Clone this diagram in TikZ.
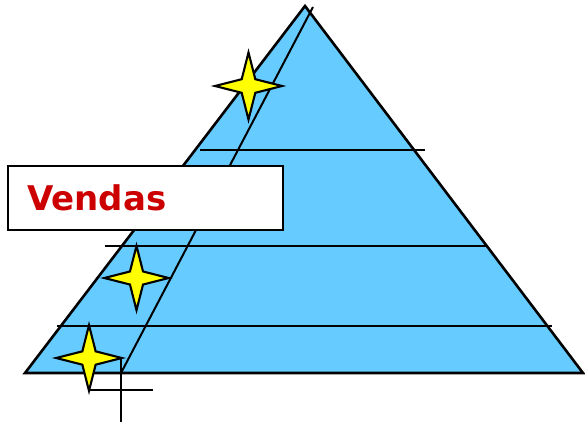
\documentclass[tikz,border=0pt]{standalone}
\usepackage{fontspec}
\setmainfont{DejaVu Sans}
\definecolor{pyrblue}{HTML}{66CCFF}
\definecolor{staryel}{HTML}{FFFF00}
\definecolor{vred}{HTML}{CC0000}
\begin{document}
\begin{tikzpicture}[x=1pt,y=-1pt,
  edge/.style={line width=2pt, draw=black},
  outline/.style={line width=2.6pt, draw=black, fill=pyrblue, line join=miter},
  labelbox/.style={draw=black, line width=1.8pt, fill=white, inner xsep=19pt, inner ysep=0pt,
    text width=237pt, align=left, minimum height=64pt, anchor=north west, outer sep=0pt,
    font=\bfseries\fontsize{34}{38}\selectfont, text=vred},
  fourstar/.pic={\draw[line width=2.1pt, fill=staryel, line join=miter, miter limit=6]
     (0,-33.5) -- (6.8,-6.8) -- (33.5,0) -- (6.8,6.8) -- (0,33.5) -- (-6.8,6.8) -- (-33.5,0) -- (-6.8,-6.8) -- cycle;}
]
\useasboundingbox (0,0) rectangle (585,424);
% pyramid
\draw[outline] (305,6) -- (583,373) -- (25,373) -- cycle;
\draw[edge] (313,7) -- (121,373);
\draw[edge] (200,150) -- (425,150);
\draw[edge] (105,246) -- (488,246);
\draw[edge] (57,326) -- (552,326);
% crosshair
\draw[edge] (121,359) -- (121,422);
\draw[edge] (89,390) -- (153,390);
% label box
\node[labelbox] (vendas) at (8,166) {Vendas};
% stars
\pic at (248.5,86) {fourstar};
\pic[scale=0.96] at (136.5,278) {fourstar};
\pic[scale=0.98] at (89,358) {fourstar};
\end{tikzpicture}
\end{document}
